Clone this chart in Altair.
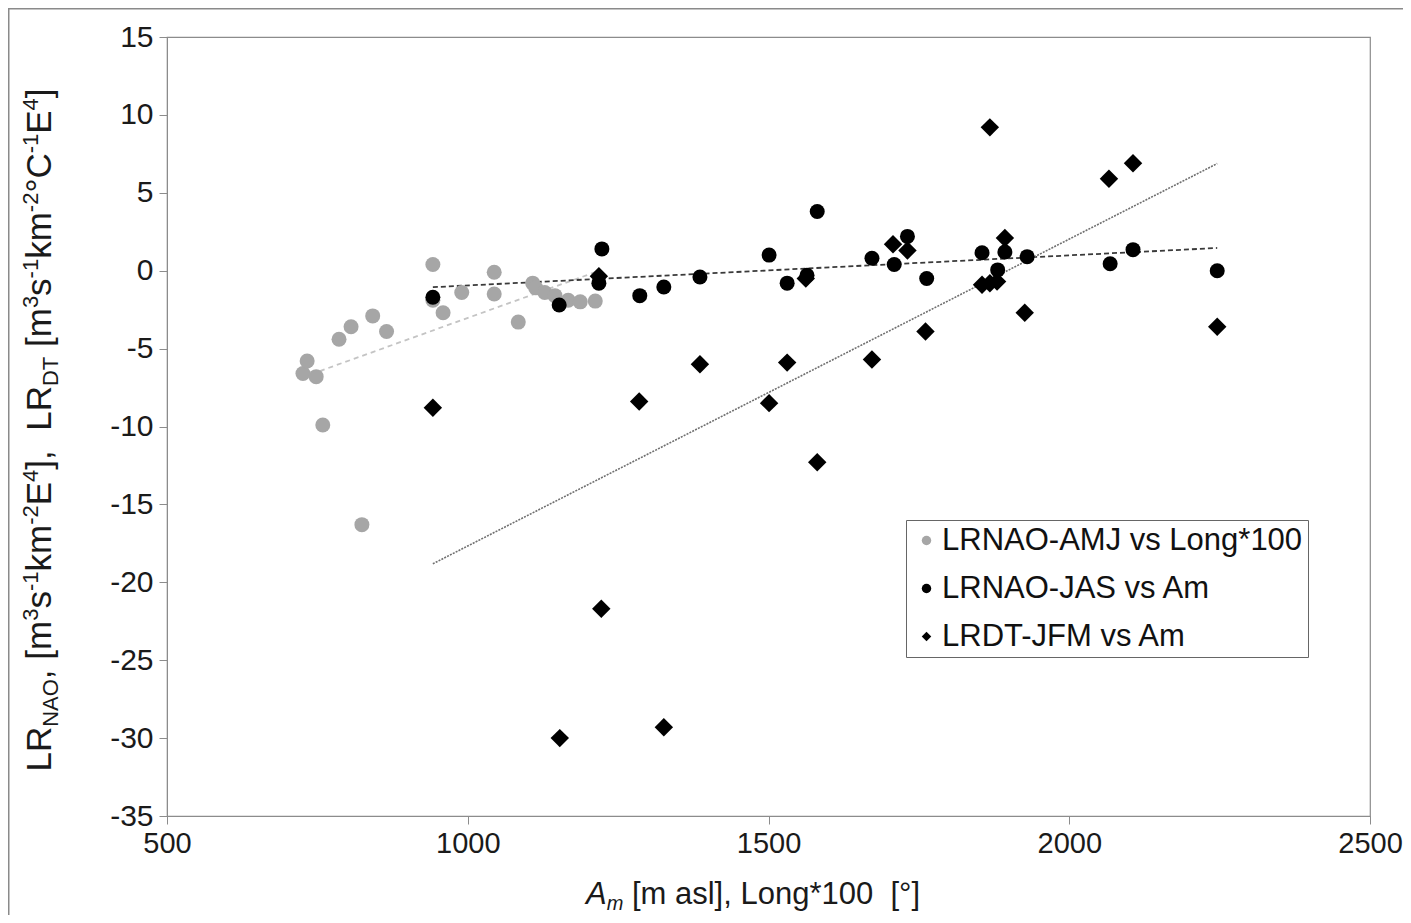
import altair as alt
import pandas as pd

FONT = "Liberation Sans"

series_names = ["LRNAO-AMJ vs Long*100", "LRNAO-JAS vs Am", "LRDT-JFM vs Am"]
series_colors = ["#a6a6a6", "#000000", "#000000"]
series_shapes = ["circle", "circle", "diamond"]

# LRNAO-AMJ vs Long*100 (grey circles)
amj_x = [726, 733, 748, 759, 786, 806, 824, 842, 865, 942, 942, 959, 990,
         1044, 1044, 1084, 1108, 1113, 1128, 1145, 1167, 1187, 1212]
amj_y = [-6.6, -5.8, -6.8, -9.9, -4.4, -3.6, -16.3, -2.9, -3.9, 0.4, -1.9, -2.7, -1.4,
         -0.1, -1.5, -3.3, -0.8, -1.1, -1.4, -1.6, -1.9, -2.0, -1.95]

# LRNAO-JAS vs Am (black circles)
jas_x = [942, 1152, 1218, 1223, 1286, 1326, 1386, 1501, 1531, 1564, 1581, 1672,
         1709, 1731, 1763, 1855, 1881, 1893, 1930, 2068, 2106, 2246]
jas_y = [-1.7, -2.2, -0.8, 1.4, -1.6, -1.05, -0.4, 1.0, -0.8, -0.3, 3.8, 0.8,
         0.4, 2.2, -0.5, 1.15, 0.05, 1.2, 0.9, 0.45, 1.35, 0.0]

# LRDT-JFM vs Am (black diamonds)
jfm_x = [942, 1153, 1218, 1222, 1285, 1326, 1386, 1501, 1531, 1562, 1581, 1672,
         1707, 1731, 1761, 1855, 1868, 1868, 1880, 1893, 1926, 2066, 2106, 2246]
jfm_y = [-8.8, -30.0, -0.35, -21.7, -8.4, -29.3, -6.0, -8.5, -5.9, -0.5, -12.3, -5.7,
         1.7, 1.3, -3.9, -0.9, 9.2, -0.8, -0.7, 2.1, -2.7, 5.9, 6.9, -3.6]

x_ticks = [500, 1000, 1500, 2000, 2500]
y_ticks = [-35, -30, -25, -20, -15, -10, -5, 0, 5, 10, 15]


def frame(name, xs, ys):
    return pd.DataFrame({"series": [name] * len(xs), "x": xs, "y": ys})


df_amj = frame(series_names[0], amj_x, amj_y)
df_jas = frame(series_names[1], jas_x, jas_y)
df_jfm = frame(series_names[2], jfm_x, jfm_y)
df_circles = pd.concat([df_amj, df_jas], ignore_index=True)

W, H = 1203, 779
PAD_L, PAD_T = 159, 29
PAD_R, PAD_B = 33, 99

xscale = alt.Scale(domain=[500, 2500], nice=False, zero=False)
yscale = alt.Scale(domain=[-35, 15], nice=False, zero=False)
AXC = "#8c8c8c"
TXT = "#1a1a1a"

xaxis = alt.Axis(values=x_ticks, title=None, grid=False, labelFontSize=29, labelFont=FONT,
                 labelColor=TXT, domainColor=AXC, tickColor=AXC, tickSize=8,
                 labelPadding=5, labelFlush=False, labelOverlap=False,
                 labelExpr="'' + datum.value")
yaxis = alt.Axis(values=y_ticks, title=None, grid=False, labelFontSize=30, labelFont=FONT,
                 labelColor=TXT, domainColor=AXC, tickColor=AXC, tickSize=8,
                 labelPadding=6, labelFlush=False, labelOverlap=False,
                 labelExpr="'' + datum.value")

color_enc = alt.Color("series:N", scale=alt.Scale(domain=series_names, range=series_colors),
                      legend=alt.Legend(title=None, orient="none", legendX=739, legendY=483,
                                        direction="vertical", labelFontSize=31, labelFont=FONT,
                                        labelColor="#111111", symbolSize=90, symbolStrokeWidth=0,
                                        strokeColor="#666666", fillColor="white", padding=5,
                                        rowPadding=16, labelLimit=0, symbolOffset=0,
                                        labelOffset=0))
shape_enc = alt.Shape("series:N", scale=alt.Scale(domain=series_names, range=series_shapes))


def trend(data, color, dash, width):
    return alt.Chart(data).transform_regression("x", "y").mark_line(
        color=color, strokeDash=dash, strokeWidth=width, clip=False
    ).encode(x=alt.X("x:Q", scale=xscale, axis=xaxis), y=alt.Y("y:Q", scale=yscale, axis=yaxis))


t_amj = trend(df_amj, "#c4c4c4", [5, 4], 1.8)
t_jas = trend(df_jas, "#3a3a3a", [5, 3], 1.8)
t_jfm = trend(df_jfm, "#707070", [2, 1.2], 1.6)

circles = alt.Chart(df_circles).mark_point(filled=True, opacity=1, size=225, strokeWidth=0).encode(
    x=alt.X("x:Q", scale=xscale, axis=xaxis),
    y=alt.Y("y:Q", scale=yscale, axis=yaxis),
    color=color_enc, shape=shape_enc)

diamonds = alt.Chart(df_jfm).mark_point(filled=True, opacity=1, size=340, strokeWidth=0).encode(
    x=alt.X("x:Q", scale=xscale, axis=xaxis),
    y=alt.Y("y:Q", scale=yscale, axis=yaxis),
    color=color_enc, shape=shape_enc)

# ---- rich-text axis titles built from pieces ----
NB = "\u00a0"
CW = {'L': 556, 'R': 722, 'N': 722, 'A': 667, 'O': 778, 'D': 722, 'T': 611, ',': 278, ' ': 278,
      NB: 278, '[': 278, ']': 278, 'm': 833, 's': 500, 'k': 500, 'E': 667, 'C': 722,
      '\u00b0': 400, '-': 333, 'a': 556, 'l': 222, 'o': 556, 'n': 556, 'g': 556, '*': 389}


def text_width(t, size):
    return sum(CW.get(c, 556) for c in t) * size / 1000.0


def piece_layers(pieces, ax, ay, angle):
    layers = []
    off = 0.0
    for t, s, d, st in pieces:
        body = t.strip(" " + NB)
        lead = t[:len(t) - len(t.lstrip(" " + NB))]
        props = dict(text=body, font=FONT, fontSize=s, fontStyle=st, align="left",
                     baseline="alphabetic", dx=off + text_width(lead, s), dy=d,
                     color=TXT, clip=False)
        if angle:
            props["angle"] = angle
        layers.append(alt.Chart(alt.Data(values=[{"t": body}])).mark_text(**props).encode(
            x=alt.value(ax), y=alt.value(ay)))
        off += text_width(t, s)
    return layers, off


YFS, YSS = 35, 22
YSUP, YSUB = -13, 7
ytitle_pieces = [("LR", YFS, 0), ("NAO", YSS, YSUB), (", [m", YFS, 0), ("3", YSS, YSUP),
                 ("s", YFS, 0), ("-1", YSS, YSUP), ("km", YFS, 0), ("-2", YSS, YSUP), ("E", YFS, 0),
                 ("4", YSS, YSUP), ("]," + NB + NB + "LR", YFS, 0), ("DT", YSS, YSUB), (" [m", YFS, 0),
                 ("3", YSS, YSUP), ("s", YFS, 0), ("-1", YSS, YSUP), ("km", YFS, 0), ("-2", YSS, YSUP),
                 ("\u00b0C", YFS, 0), ("-1", YSS, YSUP), ("E", YFS, 0), ("4", YSS, YSUP), ("]", YFS, 0)]
ytitle_pieces = [(t, s, d, "normal") for t, s, d in ytitle_pieces]

XFS, XSS = 31, 20
xtitle_pieces = [("A", XFS, 0, "italic"), ("m", XSS, 6, "italic"),
                 (" [m asl], Long*100" + NB + NB + "[\u00b0]", XFS, 0, "normal")]

ytot = sum(text_width(t, s) for t, s, _, _ in ytitle_pieces)
ylayers, _ = piece_layers(ytitle_pieces, -116, 430 - 37 + ytot / 2, 270)
xtot = sum(text_width(t, s) for t, s, _, _ in xtitle_pieces)
xlayers, _ = piece_layers(xtitle_pieces, 753 - 167 - xtot / 2, 904 - 37, 0)
text_layers = ylayers + xlayers

# outer chart frame (top and left edges)
frame_top = alt.Chart(alt.Data(values=[{"a": 0}])).mark_rule(color="#8a8a8a", strokeWidth=1.5, clip=False).encode(
    x=alt.value(-PAD_L), x2=alt.value(W + PAD_R), y=alt.value(-PAD_T + 0.75))
frame_left = alt.Chart(alt.Data(values=[{"a": 0}])).mark_rule(color="#8a8a8a", strokeWidth=1.5, clip=False).encode(
    x=alt.value(-PAD_L + 0.75), y=alt.value(-PAD_T), y2=alt.value(H + PAD_B))

chart = alt.layer(
    t_amj, t_jas, t_jfm, circles, diamonds, *text_layers, frame_top, frame_left
).resolve_scale(color="shared", shape="shared").properties(
    width=W, height=H,
    autosize=alt.AutoSizeParams(type="none"),
    padding={"left": PAD_L, "top": PAD_T, "right": PAD_R, "bottom": PAD_B},
    background="white",
).configure_view(stroke=AXC, strokeWidth=1.2)

chart.save("out.html", embed_options={"renderer": "svg", "actions": False})
